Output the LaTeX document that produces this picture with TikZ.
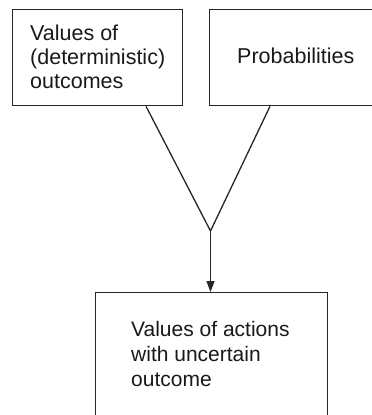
\documentclass[tikz,border=0pt]{standalone}
\usepackage{fontspec}
\setmainfont{Liberation Sans}
\usetikzlibrary{arrows.meta}
\begin{document}
\begin{tikzpicture}[x=1pt,y=-1pt,
  box/.style={draw=black!85, line width=1.3pt, rectangle, inner sep=0pt, anchor=north west},
  lbl/.style={inner sep=0pt, align=left, text=black!90},
  conn/.style={draw=black!85, line width=1.3pt},
  arr/.style={conn, -{Triangle[length=11pt,width=8pt]}}]
\useasboundingbox (0,0) rectangle (372,415);
\clip (0,0) rectangle (372,415);
\node[box, minimum width=170pt, minimum height=96pt] (a) at (12,9) {};
\node[box, minimum width=171pt, minimum height=96pt] (b) at (209,9) {};
\node[box, minimum width=232pt, minimum height=138pt] (c) at (95,292) {};
\node[lbl, anchor=north west, font=\fontsize{21.5}{24}\selectfont] (ta) at (30,24.5) {Values of\\(deterministic)\\outcomes};
\node[lbl, anchor=base west, font=\fontsize{21.5}{24}\selectfont] (tb) at (237,63) {Probabilities};
\node[lbl, anchor=north west, font=\fontsize{21}{25}\selectfont] (tc) at (131,321.5) {Values of actions\\with uncertain\\outcome};
\coordinate (j) at (210.5,231);
\coordinate (a1) at (a.south -| 146,0);
\coordinate (b1) at (b.south -| 270,0);
\draw[conn] (a1) -- (j) -- (b1);
\draw[arr] (j) -- (j |- c.north);
\end{tikzpicture}
\end{document}
